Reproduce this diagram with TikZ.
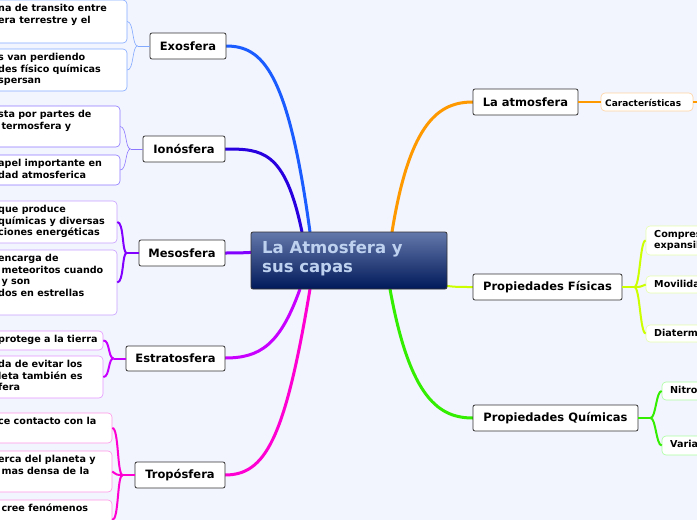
\documentclass[tikz,border=0pt]{standalone}
\usepackage{fontspec}
\setmainfont{DejaVu Sans}
\definecolor{cexo}{RGB}{130,170,255}
\definecolor{cexod}{RGB}{26,92,255}
\definecolor{cion}{RGB}{140,120,255}
\definecolor{ciond}{RGB}{40,0,224}
\definecolor{cmes}{RGB}{200,160,255}
\definecolor{cmesd}{RGB}{130,0,255}
\definecolor{cest}{RGB}{230,150,255}
\definecolor{cestd}{RGB}{200,0,255}
\definecolor{ctro}{RGB}{255,150,230}
\definecolor{ctrod}{RGB}{255,0,210}
\definecolor{catm}{RGB}{255,153,0}
\definecolor{catml}{RGB}{255,210,160}
\definecolor{cfis}{RGB}{230,255,170}
\definecolor{cfisd}{RGB}{204,255,0}
\definecolor{cqui}{RGB}{170,255,160}
\definecolor{cquid}{RGB}{51,238,0}
\definecolor{ctop}{RGB}{100,120,170}
\definecolor{cbot}{RGB}{0,25,90}
\definecolor{ctxt}{RGB}{190,210,240}
\definecolor{bg}{RGB}{242,244,254}
\begin{document}
\begin{tikzpicture}[x=1pt,y=-1pt,
  topic/.style={draw=black!80,fill=white,rounded corners=2pt,font=\bfseries\fontsize{11.5}{13}\selectfont,inner sep=0pt,line width=0.8pt},
  leaf/.style={draw=#1,fill=white,rounded corners=4pt,line width=0.6pt,inner sep=0pt},
  lt/.style={font=\bfseries\fontsize{9.6}{11.6}\selectfont,align=left,anchor=north west,inner sep=0pt}]
\useasboundingbox (0,0) rectangle (697,520);
\clip (0,0) rectangle (697,520);
\fill[bg] (0,0) rectangle (697,520);
% main branches
\draw[line width=3pt,cexod] (310,232) .. controls (288,70) and (262,46) .. (226,46);
\draw[line width=3pt,ciond] (302,232) .. controls (285,150) and (262,149) .. (225,149);
\draw[line width=3pt,cmesd] (295,245) .. controls (275,252) and (250,253) .. (225,253);
\draw[line width=3pt,cestd] (300,289) .. controls (280,345) and (260,358) .. (225,358);
\draw[line width=3pt,ctrod] (310,289) .. controls (285,440) and (265,475) .. (225,475);
\draw[line width=3pt,catm] (392,232) .. controls (410,120) and (440,102) .. (473,102);
\draw[line width=2pt,cfisd] (440,285) .. controls (455,287) .. (473,287);
\draw[line width=3pt,cquid] (390,289) .. controls (410,400) and (440,418) .. (473,418);
% center
\node[draw=black!80,rounded corners=2pt,top color=ctop,bottom color=cbot,minimum width=196pt,minimum height=57pt,line width=0.8pt] (c) at (349,260.5) {};
\node[anchor=north west,inner sep=0pt,text=ctxt,font=\bfseries\fontsize{16.5}{19}\selectfont,align=left] (ct) at (262,241) {La Atmosfera y\\sus capas};
% topics
\node[topic,minimum width=76pt,minimum height=26pt] (exo) at (188,46) {Exosfera};
\node[topic,minimum width=82pt,minimum height=26pt] (ion) at (184,149) {Ionósfera};
\node[topic,minimum width=86pt,minimum height=26pt] (meso) at (182,253) {Mesosfera};
\node[topic,minimum width=99pt,minimum height=25pt] (estr) at (175.5,358.5) {Estratosfera};
\node[topic,minimum width=90pt,minimum height=26pt] (trop) at (180,475) {Tropósfera};
\node[topic,minimum width=105pt,minimum height=26pt] (atm) at (525.5,102) {La atmosfera};
\node[topic,minimum width=149pt,minimum height=26pt] (fis) at (547.5,287) {Propiedades Físicas};
\node[topic,minimum width=165pt,minimum height=26pt] (qui) at (555.5,418) {Propiedades Químicas};
% leaf helper: name,color,x1,y1,x2,y2,text
\newcommand\lf[7]{%
  \pgfmathsetmacro\lw{#5-(#3)}\pgfmathsetmacro\lh{#6-(#4)}%
  \pgfmathsetmacro\lx{(#3+#5)/2}\pgfmathsetmacro\ly{(#4+#6)/2}%
  \node[leaf=#2,minimum width=\lw pt,minimum height=\lh pt] (#1) at (\lx,\ly) {};
  \node[lt] at (#3+8,#4+4) {#7};}
% Exosfera leaves
\lf{e1}{cexo}{-10}{0}{127}{43}{na de transito entre\\era terrestre y el}
\lf{e2}{cexo}{-10}{49}{127}{91}{s van perdiendo\\des físico químicas\\spersan}
\draw[cexo,line width=0.6pt] (exo.west) -- ++(-12,0) coordinate (ex);
\draw[cexo,line width=0.6pt] (ex) .. controls (132,46) and (134,22) .. (e1.east);
\draw[cexo,line width=0.6pt] (ex) .. controls (132,46) and (134,70) .. (e2.east);
% Ionosfera
\lf{i1}{cion}{-10}{106}{120}{147}{sta por partes de\\\ termosfera y}
\lf{i2}{cion}{-10}{155}{120}{185}{apel importante en\\dad atmosferica}
\draw[cion,line width=0.6pt] (ion.west) -- ++(-12,0) coordinate (ix);
\draw[cion,line width=0.6pt] (ix) .. controls (125,149) and (127,127) .. (i1.east);
\draw[cion,line width=0.6pt] (ix) .. controls (125,149) and (127,170) .. (i2.east);
% Mesosfera
\lf{m1}{cmes}{-10}{201}{117}{243}{que produce\\químicas y diversas\\ciones energéticas}
\lf{m2}{cmes}{-10}{250}{117}{315}{encarga de\\\ meteoritos cuando\\\ y son\\dos en estrellas}
\draw[cmesd,line width=2pt] (meso.west) -- ++(-12,0) coordinate (mx);
\draw[cmesd,line width=2pt] (mx) .. controls (122,253) and (124,222) .. (m1.east);
\draw[cmesd,line width=2pt] (mx) .. controls (122,253) and (124,282) .. (m2.east);
% Estratosfera
\lf{s1}{cest}{-10}{331}{103}{350}{protege a la tierra}
\lf{s2}{cest}{-10}{356}{103}{398}{da de evitar los\\leta también es\\fera}
\draw[cestd,line width=2pt] (estr.west) -- ++(-12,0) coordinate (sx);
\draw[cestd,line width=2pt] (sx) .. controls (108,358) and (110,340) .. (s1.east);
\draw[cestd,line width=2pt] (sx) .. controls (108,358) and (110,377) .. (s2.east);
% Troposfera
\lf{t1}{ctro}{-10}{413}{112}{443}{ce contacto con la}
\lf{t2}{ctro}{-10}{451}{112}{492}{erca del planeta y\\\ mas densa de la}
\lf{t3}{ctro}{-10}{500}{112}{540}{\ cree fenómenos}
\draw[ctrod,line width=2pt] (trop.west) -- ++(-12,0) coordinate (tx);
\draw[ctrod,line width=2pt] (tx) .. controls (117,475) and (119,428) .. (t1.east);
\draw[ctrod,line width=2pt] (tx) .. controls (117,475) .. (t2.east);
\draw[ctrod,line width=2pt] (tx) .. controls (117,475) and (119,520) .. (t3.east);
% La atmosfera
\node[leaf=catml,minimum width=92pt,minimum height=18pt] (car) at (647,102) {};
\node[lt,font=\bfseries\fontsize{9}{10}\selectfont,anchor=west] at (605,102.5) {Características};
\draw[catm,line width=2pt] (atm.east) -- (car.west);
\draw[catm,line width=2pt] (car.east) -- ++(12,0);
% Fisicas
\lf{f1}{cfis}{646}{226}{710}{255}{Compres\\expansib}
\lf{f2}{cfis}{646}{276}{710}{293}{Movilida}
\lf{f3}{cfis}{646}{325}{710}{342}{Diaterma}
\draw[cfisd,line width=2pt] (fis.east) -- ++(12,0) coordinate (fx);
\draw[cfisd,line width=2pt] (fx) .. controls (640,287) and (640,240) .. (f1.west);
\draw[cfisd,line width=2pt] (fx) .. controls (640,287) .. (f2.west);
\draw[cfisd,line width=2pt] (fx) .. controls (640,287) and (640,333) .. (f3.west);
% Quimicas
\lf{q1}{cqui}{662}{382}{710}{400}{Nitrog}
\lf{q2}{cqui}{662}{436}{710}{455}{Varial}
\draw[cquid,line width=2pt] (qui.east) -- ++(12,0) coordinate (qx);
\draw[cquid,line width=2pt] (qx) .. controls (656,418) and (656,391) .. (q1.west);
\draw[cquid,line width=2pt] (qx) .. controls (656,418) and (656,445) .. (q2.west);
\end{tikzpicture}
\end{document}
